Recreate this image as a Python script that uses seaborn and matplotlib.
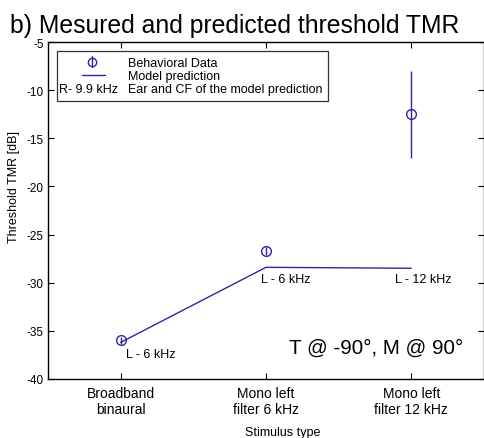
import matplotlib
matplotlib.use("Agg")
import matplotlib.pyplot as plt
import seaborn as sns
import pandas as pd
from matplotlib.patches import Rectangle
from matplotlib.lines import Line2D

categories = ["Broadband\nbinaural", "Mono left\nfilter 6 kHz", "Mono left\nfilter 12 kHz"]
behavioral_mean = [-36.0, -26.7, -12.5]
behavioral_err = [0.4, 0.4, 4.5]
model_pred = [-36.2, -28.4, -28.5]
model_labels = ["L - 6 kHz", "L - 6 kHz", "L - 12 kHz"]
yticks = [-40, -35, -30, -25, -20, -15, -10, -5]

sns.set_theme(style="white")
plt.rcParams["font.family"] = ["Liberation Sans", "DejaVu Sans"]
for k in ["text.color", "axes.labelcolor", "xtick.color", "ytick.color", "axes.edgecolor"]:
    plt.rcParams[k] = "black"

color = "#2e24a6"
pos = list(range(len(categories)))
df = pd.DataFrame({"pos": pos, "beh": behavioral_mean, "err": behavioral_err, "model": model_pred})

fig = plt.figure(figsize=(4.85, 4.39), dpi=100)
ax = fig.add_axes([48/485, 59/439, 436/485, 337/439])

sns.lineplot(data=df, x="pos", y="model", ax=ax, color=color, lw=1.0, sort=False)
ax.errorbar(df["pos"], df["beh"], yerr=df["err"], fmt="o", mfc="none", mec=color,
            ecolor=color, color=color, ms=7, mew=1.0, elinewidth=1.0, capsize=0, zorder=3)

offsets = [(0.035, -1.2), (-0.035, -1.2), (-0.11, -1.1)]
for p, v, lab, (dx, dy) in zip(pos, model_pred, model_labels, offsets):
    ax.text(p + dx, v + dy, lab, fontsize=9, ha="left", va="center", color="black")

ax.set_xlim(-0.5, 2.5)
ax.set_ylim(-40, -5)
ax.set_xticks(pos)
ax.set_xticklabels(categories, fontsize=10, linespacing=1.15)
ax.set_yticks(yticks)
ax.set_yticklabels([str(t) for t in yticks], fontsize=8.5)
ax.tick_params(direction="in", length=4, width=0.8, top=True, right=True,
               bottom=True, left=True, colors="black")
ax.tick_params(axis="y", pad=3)
ax.tick_params(axis="x", pad=5)
for s in ax.spines.values():
    s.set_visible(True)
    s.set_color("black")
    s.set_linewidth(1.0)
ax.set_xlabel("")
ax.set_ylabel("")

fig.text(14/485, 1 - 187/439, "Threshold TMR [dB]", rotation=90, ha="center", va="center", fontsize=9)
fig.text(283/485, 1 - 433/439, "Stimulus type", ha="center", va="center", fontsize=9)
fig.text(10/485, 1 - 33/439, "b) Mesured and predicted threshold TMR", ha="left", va="baseline", fontsize=17.8)

ax.text(0.952, 0.095, "T @ -90°, M @ 90°", transform=ax.transAxes, ha="right", va="center", fontsize=14.8)

# legend box
ax.add_patch(Rectangle((0.021, 0.825), 0.621, 0.148, transform=ax.transAxes,
                       fill=True, fc="white", ec="#333333", lw=0.9, zorder=4))
ax.plot([0.101], [0.941], transform=ax.transAxes, marker="o", mfc="none", mec=color, ms=6, mew=1.0, zorder=5)
ax.plot([0.101, 0.101], [0.925, 0.957], transform=ax.transAxes, color=color, lw=1.0, zorder=5)
ax.add_line(Line2D([0.078, 0.130], [0.902, 0.902], transform=ax.transAxes, color=color, lw=1.0, zorder=5))
lfs = 9.0
ax.text(0.183, 0.938, "Behavioral Data", transform=ax.transAxes, fontsize=lfs, va="center", zorder=5)
ax.text(0.183, 0.900, "Model prediction", transform=ax.transAxes, fontsize=lfs, va="center", zorder=5)
ax.text(0.026, 0.862, "R- 9.9 kHz", transform=ax.transAxes, fontsize=lfs, va="center", zorder=5)
ax.text(0.183, 0.862, "Ear and CF of the model prediction", transform=ax.transAxes, fontsize=lfs, va="center", zorder=5)

fig.savefig("out.png", dpi=100)
